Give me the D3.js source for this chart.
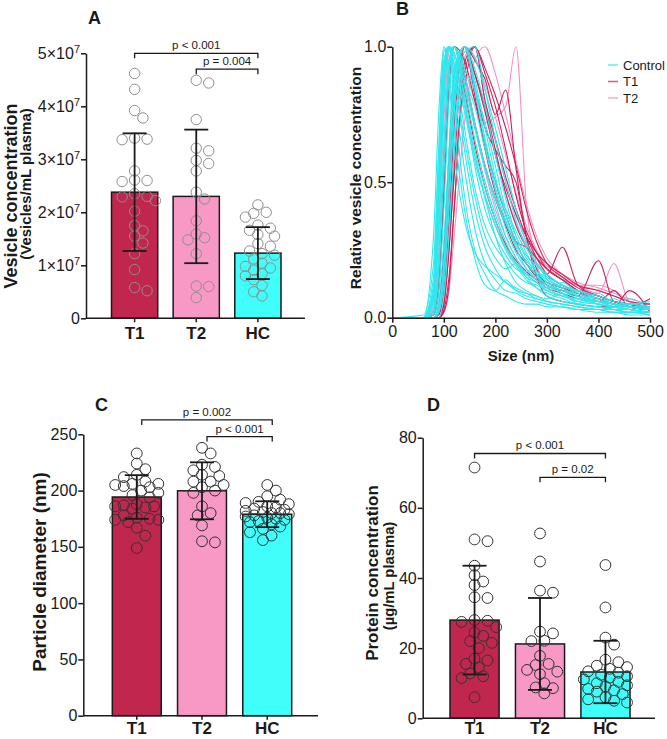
<!DOCTYPE html>
<html>
<head>
<meta charset="utf-8">
<script src="https://cdn.jsdelivr.net/npm/d3@7"></script>
<style>
  body { margin: 0; background: #fff; }
  svg { font-family: Arial, "Liberation Sans", sans-serif; }
</style>
</head>
<body>
<svg id="fig" width="667" height="739"></svg>
<script>
// groups shared by the three bar panels
var groups = ["T1", "T2", "HC"];
var groupColor = ["#c1264e", "#f898c4", "#40fffb"];

// A: vesicle concentration (vesicles/mL plasma)
var vesicleMean = [2.38e7, 2.30e7, 1.23e7];
var vesicleSD = [1.11e7, 1.26e7, 0.49e7];
var vesicleT1 = [4.62e7, 4.32e7, 3.92e7, 3.78e7, 3.38e7, 3.37e7, 3.40e7, 2.78e7, 2.60e7, 2.61e7, 2.58e7,
  2.30e7, 2.22e7, 2.35e7, 2.29e7, 2.02e7, 1.65e7, 1.75e7, 1.42e7, 1.55e7, 1.22e7, 0.92e7, 0.52e7, 0.58e7];
var vesicleT2 = [4.44e7, 4.49e7, 3.75e7, 3.21e7, 3.16e7, 2.92e7, 2.98e7, 2.78e7, 2.38e7, 2.25e7, 1.84e7,
  1.59e7, 1.48e7, 1.52e7, 1.22e7, 0.61e7, 0.60e7, 0.39e7];
var vesicleHC = [2.14e7, 2.00e7, 1.98e7, 1.91e7, 1.76e7, 1.70e7, 1.66e7, 1.58e7, 1.55e7, 1.41e7, 1.36e7,
  1.27e7, 1.22e7, 1.19e7, 1.12e7, 1.04e7, 0.98e7, 0.95e7, 0.91e7, 0.84e7, 0.80e7, 0.73e7, 0.62e7, 0.50e7, 0.42e7];

// C: particle diameter (nm)
var diameterMean = [194.3, 199.8, 179.0];
var diameterSD = [19.4, 25.3, 11.5];
var diameterT1 = [233, 224, 219, 214, 212, 208, 206, 206, 205, 204, 203, 200, 198, 196, 194, 188, 187, 186,
  186, 185, 184, 178, 176, 175, 174, 174, 172, 167, 160, 149];
var diameterT2 = [238, 233, 223, 221, 218, 214, 213, 208, 208, 205, 203, 200, 198, 186, 180, 178, 169, 155, 154];
var diameterHC = [205, 200, 195, 192, 190, 189, 188, 186, 185, 184, 183, 182, 181, 180, 180, 179, 178, 177,
  176, 175, 174, 173, 172, 170, 168, 166, 163, 160, 156];

// D: protein concentration (ug/mL plasma)
var proteinMean = [28.0, 21.2, 13.2];
var proteinSD = [15.5, 13.1, 8.9];
var proteinT1 = [71.5, 51.0, 50.5, 43.5, 40.8, 39.0, 38.0, 34.5, 34.3, 28.0, 27.8, 27.5, 26.0, 24.5, 23.5,
  22.0, 21.5, 20.0, 17.0, 16.5, 15.5, 14.5, 12.8, 12.0, 11.5, 6.0];
var proteinT2 = [52.7, 44.7, 36.4, 35.8, 24.7, 24.2, 22.1, 22.0, 17.8, 15.2, 15.5, 13.3, 12.6, 13.8, 10.0, 8.6, 8.8, 7.1];
var proteinHC = [43.7, 31.6, 23.0, 21.0, 16.7, 16.0, 15.0, 14.6, 14.1, 13.4, 13.0, 12.4, 12.0, 11.6, 11.1,
  10.4, 10.0, 9.4, 9.1, 8.4, 8.0, 7.6, 6.9, 6.0, 5.4, 5.0, 4.5];

// B: size distributions, one value per size in sizeGrid
var sizeGrid = [0, 60, 80, 90, 100, 110, 120, 140, 160, 180, 200, 220, 240, 260, 280, 300, 330, 360, 400, 430, 460, 500];
var controlCurves = [
  [0, 0, 0.08, 0.45, 0.90, 1, 0.96, 0.78, 0.60, 0.45, 0.34, 0.25, 0.19, 0.14, 0.11, 0.09, 0.07, 0.05, 0.04, 0.03, 0.03, 0.02],
  [0, 0, 0.02, 0.20, 0.62, 0.95, 1, 0.85, 0.66, 0.50, 0.38, 0.28, 0.20, 0.15, 0.13, 0.10, 0.12, 0.08, 0.05, 0.04, 0.03, 0.02],
  [0, 0, 0.15, 0.60, 1, 0.92, 0.70, 0.40, 0.22, 0.12, 0.10, 0.14, 0.10, 0.08, 0.07, 0.06, 0.05, 0.04, 0.03, 0.02, 0.02, 0.01],
  [0, 0, 0, 0.06, 0.28, 0.62, 0.90, 1, 0.84, 0.64, 0.47, 0.33, 0.24, 0.18, 0.15, 0.12, 0.10, 0.07, 0.05, 0.04, 0.05, 0.03],
  [0, 0, 0, 0.02, 0.15, 0.45, 0.80, 1, 0.88, 0.70, 0.52, 0.38, 0.28, 0.20, 0.16, 0.12, 0.09, 0.06, 0.05, 0.04, 0.03, 0.02],
  [0, 0, 0.10, 0.50, 0.95, 1, 0.85, 0.55, 0.33, 0.20, 0.14, 0.10, 0.09, 0.07, 0.06, 0.05, 0.04, 0.03, 0.03, 0.02, 0.02, 0.01],
  [0, 0, 0, 0.04, 0.20, 0.55, 0.85, 1, 0.92, 0.78, 0.60, 0.44, 0.30, 0.22, 0.17, 0.14, 0.11, 0.08, 0.06, 0.05, 0.04, 0.04],
  [0, 0.01, 0.20, 0.62, 0.98, 1, 0.90, 0.66, 0.45, 0.30, 0.22, 0.18, 0.20, 0.15, 0.11, 0.08, 0.06, 0.05, 0.04, 0.03, 0.02, 0.02],
  [0, 0, 0.06, 0.35, 0.80, 1, 0.98, 0.82, 0.62, 0.48, 0.36, 0.26, 0.20, 0.17, 0.20, 0.14, 0.09, 0.06, 0.05, 0.04, 0.07, 0.03],
  [0, 0, 0, 0, 0.08, 0.30, 0.62, 0.98, 1, 0.84, 0.66, 0.50, 0.36, 0.26, 0.20, 0.16, 0.12, 0.10, 0.07, 0.05, 0.04, 0.03],
  [0, 0, 0.12, 0.52, 0.93, 1, 0.80, 0.45, 0.25, 0.16, 0.10, 0.08, 0.06, 0.05, 0.05, 0.04, 0.04, 0.03, 0.02, 0.02, 0.01, 0.01],
  [0, 0, 0.05, 0.32, 0.78, 1, 0.97, 0.86, 0.70, 0.55, 0.42, 0.30, 0.22, 0.16, 0.13, 0.11, 0.13, 0.09, 0.06, 0.04, 0.03, 0.02],
  [0, 0, 0.01, 0.10, 0.40, 0.80, 1, 0.90, 0.72, 0.56, 0.44, 0.35, 0.26, 0.18, 0.14, 0.11, 0.08, 0.07, 0.06, 0.07, 0.04, 0.03],
  [0, 0, 0.08, 0.40, 0.86, 1, 0.93, 0.70, 0.48, 0.34, 0.26, 0.21, 0.16, 0.13, 0.12, 0.10, 0.08, 0.06, 0.09, 0.05, 0.03, 0.02],
  [0, 0, 0.03, 0.22, 0.62, 0.92, 1, 0.88, 0.78, 0.62, 0.48, 0.36, 0.27, 0.21, 0.17, 0.15, 0.12, 0.10, 0.08, 0.06, 0.05, 0.06],
  [0, 0, 0.10, 0.48, 0.90, 1, 0.90, 0.62, 0.40, 0.26, 0.18, 0.13, 0.11, 0.09, 0.08, 0.06, 0.05, 0.04, 0.03, 0.03, 0.02, 0.02],
  [0, 0, 0.30, 0.75, 1, 0.88, 0.62, 0.36, 0.24, 0.19, 0.16, 0.13, 0.10, 0.09, 0.07, 0.06, 0.05, 0.04, 0.03, 0.03, 0.02, 0.02],
  [0, 0, 0, 0.02, 0.12, 0.40, 0.75, 1, 0.96, 0.84, 0.70, 0.55, 0.40, 0.28, 0.20, 0.15, 0.11, 0.08, 0.06, 0.05, 0.04, 0.03],
  [0, 0, 0.07, 0.38, 0.82, 0.99, 1, 0.80, 0.56, 0.40, 0.30, 0.23, 0.18, 0.16, 0.13, 0.10, 0.08, 0.10, 0.06, 0.04, 0.03, 0.02],
  [0, 0, 0, 0.03, 0.20, 0.55, 0.88, 1, 0.86, 0.66, 0.50, 0.40, 0.32, 0.24, 0.17, 0.13, 0.10, 0.08, 0.06, 0.05, 0.05, 0.04],
  [0, 0, 0.09, 0.46, 0.90, 1, 0.94, 0.76, 0.58, 0.44, 0.30, 0.20, 0.13, 0.10, 0.08, 0.07, 0.09, 0.05, 0.04, 0.03, 0.02, 0.02],
  [0, 0, 0.02, 0.16, 0.52, 0.88, 1, 0.92, 0.84, 0.72, 0.56, 0.40, 0.30, 0.23, 0.19, 0.16, 0.12, 0.09, 0.07, 0.05, 0.04, 0.03]
];
var t1Curves = [
  [0, 0, 0, 0.02, 0.12, 0.40, 0.75, 1, 0.90, 0.78, 0.62, 0.46, 0.34, 0.26, 0.20, 0.16, 0.26, 0.12, 0.08, 0.06, 0.04, 0.03],
  [0, 0, 0, 0, 0.05, 0.25, 0.55, 1, 0.95, 0.88, 0.75, 0.84, 0.55, 0.30, 0.18, 0.12, 0.10, 0.08, 0.21, 0.06, 0.05, 0.03],
  [0, 0, 0, 0.04, 0.25, 0.60, 0.90, 1, 0.85, 0.70, 0.62, 0.56, 0.50, 0.30, 0.15, 0.08, 0.06, 0.05, 0.04, 0.04, 0.10, 0.02],
  [0, 0, 0.01, 0.10, 0.45, 0.85, 1, 0.95, 0.80, 0.64, 0.50, 0.38, 0.28, 0.20, 0.15, 0.12, 0.10, 0.08, 0.06, 0.05, 0.04, 0.07],
  [0, 0, 0, 0, 0.03, 0.15, 0.40, 0.94, 1, 0.90, 0.78, 0.62, 0.45, 0.32, 0.24, 0.18, 0.14, 0.10, 0.07, 0.05, 0.04, 0.03],
  [0, 0, 0, 0.02, 0.15, 0.45, 0.80, 1, 0.82, 0.62, 0.46, 0.35, 0.28, 0.26, 0.22, 0.18, 0.14, 0.10, 0.08, 0.06, 0.05, 0.04],
  [0, 0, 0.02, 0.15, 0.52, 0.90, 1, 0.90, 0.72, 0.56, 0.44, 0.34, 0.25, 0.20, 0.16, 0.13, 0.11, 0.09, 0.07, 0.05, 0.04, 0.03],
  [0, 0, 0, 0, 0.05, 0.25, 0.52, 0.85, 1, 0.92, 0.82, 0.70, 0.56, 0.40, 0.28, 0.20, 0.15, 0.11, 0.08, 0.06, 0.04, 0.03],
  [0, 0, 0, 0.01, 0.10, 0.35, 0.70, 1, 0.90, 0.76, 0.60, 0.48, 0.38, 0.30, 0.24, 0.20, 0.16, 0.12, 0.10, 0.08, 0.06, 0.05],
  [0, 0, 0.01, 0.12, 0.48, 0.86, 1, 0.84, 0.64, 0.48, 0.36, 0.27, 0.21, 0.17, 0.14, 0.11, 0.09, 0.07, 0.06, 0.10, 0.04, 0.03],
  [0, 0, 0, 0, 0.02, 0.12, 0.40, 0.90, 1, 0.80, 0.66, 0.52, 0.40, 0.30, 0.22, 0.16, 0.12, 0.09, 0.07, 0.05, 0.04, 0.03]
];
var t2Curves = [
  [0, 0, 0, 0, 0.02, 0.10, 0.30, 0.72, 0.95, 1, 0.90, 0.75, 0.58, 0.42, 0.30, 0.22, 0.16, 0.12, 0.09, 0.20, 0.06, 0.04],
  [0, 0, 0.02, 0.15, 0.50, 0.85, 1, 0.92, 0.80, 0.72, 0.74, 0.78, 1, 0.42, 0.20, 0.12, 0.10, 0.08, 0.06, 0.05, 0.04, 0.03],
  [0, 0, 0, 0.03, 0.18, 0.50, 0.82, 1, 0.90, 0.76, 0.60, 0.46, 0.35, 0.27, 0.22, 0.18, 0.15, 0.12, 0.12, 0.10, 0.06, 0.04],
  [0, 0, 0.03, 0.22, 0.62, 0.95, 1, 0.88, 0.70, 0.54, 0.40, 0.30, 0.22, 0.17, 0.14, 0.12, 0.10, 0.10, 0.08, 0.06, 0.05, 0.04],
  [0, 0, 0, 0, 0.06, 0.28, 0.60, 0.96, 1, 0.80, 0.65, 0.50, 0.38, 0.28, 0.22, 0.18, 0.14, 0.12, 0.10, 0.08, 0.06, 0.05],
  [0, 0, 0.04, 0.30, 0.72, 0.98, 1, 0.80, 0.60, 0.45, 0.34, 0.26, 0.20, 0.16, 0.15, 0.13, 0.11, 0.09, 0.07, 0.06, 0.04, 0.03],
  [0, 0, 0, 0.02, 0.12, 0.40, 0.74, 1, 0.96, 0.86, 0.74, 0.60, 0.46, 0.34, 0.25, 0.19, 0.16, 0.13, 0.11, 0.09, 0.07, 0.05]
];
var curveLegend = ["Control", "T1", "T2"];
var curveColor = ["#2fe8ee", "#cc2358", "#f491c2"];

var svg = d3.select("#fig");
var ink = "#1a1a1a";

// prism-like swarm: push a dot sideways until it clears earlier ones, staying inside the bar
function swarm(vals, y, cx, r, half) {
  var pts = vals.map(function (v) { return { v: v, y: y(v) }; }).sort(function (a, b) { return a.y - b.y; });
  var placed = [];
  var step = r * 0.8, minD = 2 * r * 0.86;
  pts.forEach(function (p) {
    var best = null, bestD = -1;
    for (var k = 0; k < 40; k++) {
      var off = (k % 2 ? 1 : -1) * Math.ceil(k / 2) * step;
      if (Math.abs(off) > half) continue;
      var dmin = Infinity;
      placed.forEach(function (q) {
        var dx = q.x - (cx + off), dy = q.y - p.y;
        dmin = Math.min(dmin, Math.sqrt(dx * dx + dy * dy));
      });
      if (dmin >= minD) { best = off; break; }
      if (dmin > bestD) { bestD = dmin; best = off; }
    }
    p.x = cx + best;
    placed.push(p);
  });
  return pts;
}

function styleAxis(sel, size) {
  sel.select(".domain").attr("stroke", ink).attr("stroke-width", 1.5);
  sel.selectAll(".tick line").attr("stroke", ink).attr("stroke-width", 1.5);
  sel.selectAll(".tick text").attr("fill", ink).attr("font-size", size + "px").attr("font-family", null);
}

function barPanel(p) {
  var g = svg.append("g");
  var y = d3.scaleLinear().domain([0, p.yMax]).range([p.bottom, p.top]);
  var x = d3.scaleBand().domain(groups).range([p.barL, p.barR]).paddingInner(0.25);
  var mid = function (d) { return x(d) + x.bandwidth() / 2; };

  g.selectAll("rect").data(groups).join("rect")
    .attr("x", function (d) { return x(d); })
    .attr("y", function (d, i) { return y(p.mean[i]); })
    .attr("width", x.bandwidth())
    .attr("height", function (d, i) { return y(0) - y(p.mean[i]); })
    .attr("fill", function (d, i) { return groupColor[i]; })
    .attr("stroke", ink).attr("stroke-width", 1.5);

  groups.forEach(function (name, i) {
    g.append("g").selectAll("circle").data(swarm(p.data[i], y, mid(name), p.r, x.bandwidth() / 2 - p.r * 0.4)).join("circle")
      .attr("cx", function (d) { return d.x; })
      .attr("cy", function (d) { return d.y; })
      .attr("r", p.r)
      .attr("fill", "none").attr("stroke", p.dot).attr("stroke-width", 1);
  });

  // mean +/- SD
  var eb = g.append("g").attr("stroke", ink).attr("stroke-width", 1.8);
  groups.forEach(function (name, i) {
    var cx = mid(name), hi = y(p.mean[i] + p.sd[i]), lo = y(p.mean[i] - p.sd[i]);
    eb.append("line").attr("x1", cx).attr("x2", cx).attr("y1", hi).attr("y2", lo);
    eb.append("line").attr("x1", cx - 12).attr("x2", cx + 12).attr("y1", hi).attr("y2", hi);
    eb.append("line").attr("x1", cx - 12).attr("x2", cx + 12).attr("y1", lo).attr("y2", lo);
  });

  var ya = g.append("g").attr("transform", "translate(" + p.left + ",0)")
    .call(d3.axisLeft(y).tickValues(p.yTicks).tickSize(5).tickSizeOuter(0).tickPadding(1).tickFormat(p.fmt));
  styleAxis(ya, 16);
  if (p.sci) {
    ya.selectAll(".tick text").each(function (d) {
      if (!d) return;
      var t = d3.select(this).text(d / 1e7 + "×10");
      t.append("tspan").attr("dy", "-0.55em").attr("font-size", "11px").text("7");
    });
  }

  g.append("line").attr("x1", p.left).attr("x2", p.right).attr("y1", y(0)).attr("y2", y(0))
    .attr("stroke", ink).attr("stroke-width", 1.5);
  g.selectAll("line.xt").data(groups).join("line").attr("class", "xt")
    .attr("x1", mid).attr("x2", mid).attr("y1", y(0)).attr("y2", y(0) + 4)
    .attr("stroke", ink).attr("stroke-width", 1.5);
  g.selectAll("text.xl").data(groups).join("text").attr("class", "xl")
    .attr("x", mid).attr("y", p.labelY).attr("text-anchor", "middle")
    .attr("font-size", "17px").attr("font-weight", "bold").attr("fill", ink).text(function (d) { return d; });

  // significance brackets
  p.brackets.forEach(function (b) {
    var x1 = mid(b.from) + p.shift, x2 = mid(b.to) + p.shift, by = y(b.at);
    g.append("path").attr("d", "M" + x1 + "," + (by + 5) + "V" + by + "H" + x2 + "V" + (by + 5))
      .attr("fill", "none").attr("stroke", ink).attr("stroke-width", 1.3);
    g.append("text").attr("x", (x1 + x2) / 2).attr("y", by - 4).attr("text-anchor", "middle")
      .attr("font-size", "11.5px").attr("fill", ink).text(b.label);
  });

  p.titles.forEach(function (t) {
    g.append("text").attr("transform", "translate(" + t.x + "," + t.y + ") rotate(-90)")
      .attr("text-anchor", "middle").attr("font-size", t.size + "px").attr("font-weight", "bold")
      .attr("fill", ink).text(t.text);
  });
}

barPanel({
  data: [vesicleT1, vesicleT2, vesicleHC], mean: vesicleMean, sd: vesicleSD,
  yMax: 5e7, yTicks: [0, 1e7, 2e7, 3e7, 4e7, 5e7], fmt: d3.format("d"), sci: true,
  left: 86, right: 305, top: 53.3, bottom: 318.3, barL: 111.5, barR: 281, labelY: 339,
  r: 5.2, dot: "#8e8e8e", shift: 0,
  brackets: [{ from: "T1", to: "HC", at: 5e7, label: "p < 0.001" },
             { from: "T2", to: "HC", at: 4.7e7, label: "p = 0.004" }],
  titles: [{ text: "Vesicle concentration", x: 17, y: 196, size: 18 },
           { text: "(Vesicles/mL plasma)", x: 31, y: 184, size: 15 }]
});

barPanel({
  data: [diameterT1, diameterT2, diameterHC], mean: diameterMean, sd: diameterSD,
  yMax: 250, yTicks: [0, 50, 100, 150, 200, 250], fmt: d3.format("d"),
  left: 83.3, right: 318, top: 434.3, bottom: 715.7, barL: 112.3, barR: 291.7, labelY: 734,
  r: 5.4, dot: "#333", shift: 5,
  brackets: [{ from: "T1", to: "HC", at: 262.8, label: "p = 0.002" },
             { from: "T2", to: "HC", at: 248, label: "p < 0.001" }],
  titles: [{ text: "Particle diameter (nm)", x: 46, y: 572, size: 19 }]
});

barPanel({
  data: [proteinT1, proteinT2, proteinHC], mean: proteinMean, sd: proteinSD,
  yMax: 80, yTicks: [0, 20, 40, 60, 80], fmt: d3.format("d"),
  left: 422.7, right: 655, top: 437.7, bottom: 718.3, barL: 450, barR: 630, labelY: 734,
  r: 5.4, dot: "#333", shift: 0,
  brackets: [{ from: "T1", to: "HC", at: 75.5, label: "p < 0.001" },
             { from: "T2", to: "HC", at: 68.7, label: "p = 0.02" }],
  titles: [{ text: "Protein concentration", x: 378, y: 573, size: 17 },
           { text: "(µg/mL plasma)", x: 394, y: 576, size: 14.8 }]
});

// B: size distributions
(function () {
  var g = svg.append("g");
  var x = d3.scaleLinear().domain([0, 500]).range([392.3, 650]);
  var y = d3.scaleLinear().domain([0, 1]).range([317.7, 46.7]);
  svg.append("defs").append("clipPath").attr("id", "clipB")
    .append("rect").attr("x", x(0)).attr("y", y(1) - 1).attr("width", x(500) - x(0) + 1).attr("height", y(0) - y(1) + 1);

  var line = d3.line()
    .x(function (d, i) { return x(sizeGrid[i]); })
    .y(function (d) { return y(d); })
    .curve(d3.curveMonotoneX);

  var sets = [[t2Curves, 2], [t1Curves, 1], [controlCurves, 0]];
  var lines = g.append("g").attr("clip-path", "url(#clipB)");
  sets.forEach(function (s) {
    lines.append("g").selectAll("path").data(s[0]).join("path")
      .attr("d", line).attr("fill", "none")
      .attr("stroke", curveColor[s[1]]).attr("stroke-width", 1.1);
  });

  var ya = g.append("g").attr("transform", "translate(" + x(0) + ",0)")
    .call(d3.axisLeft(y).tickValues([0, 0.5, 1]).tickSize(5).tickSizeOuter(0).tickPadding(1).tickFormat(d3.format(".1f")));
  styleAxis(ya, 16);
  var xa = g.append("g").attr("transform", "translate(0," + y(0) + ")")
    .call(d3.axisBottom(x).tickValues([0, 100, 200, 300, 400, 500]).tickSize(5).tickSizeOuter(0).tickPadding(3));
  styleAxis(xa, 16);

  g.append("text").attr("x", 521).attr("y", 361).attr("text-anchor", "middle")
    .attr("font-size", "15px").attr("font-weight", "bold").attr("fill", ink).text("Size (nm)");
  g.append("text").attr("transform", "translate(361,178) rotate(-90)").attr("text-anchor", "middle")
    .attr("font-size", "15.5px").attr("font-weight", "bold").attr("fill", ink).text("Relative vesicle concentration");

  var lg = g.append("g").selectAll("g").data(curveLegend).join("g")
    .attr("transform", function (d, i) { return "translate(608," + (65 + i * 16.5) + ")"; });
  lg.append("line").attr("x1", 0).attr("x2", 10).attr("stroke", function (d, i) { return curveColor[i]; })
    .attr("stroke-width", 1.5).attr("opacity", 0.75);
  lg.append("text").attr("x", 15).attr("dy", "0.35em").attr("font-size", "13px").attr("fill", ink)
    .text(function (d) { return d; });
})();

// panel letters
var letters = [["A", 88, 23.5], ["B", 396, 15], ["C", 95, 410.7], ["D", 427, 410.7]];
svg.selectAll("text.letter").data(letters).join("text").attr("class", "letter")
  .attr("x", function (d) { return d[1]; }).attr("y", function (d) { return d[2]; })
  .attr("font-size", "18px").attr("font-weight", "bold").attr("fill", ink).text(function (d) { return d[0]; });
</script>
</body>
</html>
